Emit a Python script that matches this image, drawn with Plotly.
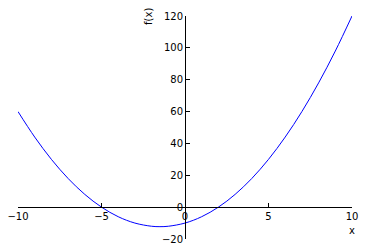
import plotly.graph_objects as go

# Values
x_vals = [-10, -9, -8, -7, -6, -5, -4, -3, -2, -1.5, -1, 0, 1, 2, 3, 4, 5, 6, 7, 8, 9, 10]
y_vals = [60, 44, 30, 18, 8, 0, -6, -10, -12, -12.25, -12, -10, -6, 0, 8, 18, 30, 44, 60, 78, 98, 120]

x_ticks = [-10, -5, 0, 5, 10]
y_ticks = [-20, 0, 20, 40, 60, 80, 100, 120]
x_label = "x"
y_label = "f(x)"

x_range = [-10, 10]
y_range = [-20, 120]

fig = go.Figure()
fig.add_trace(go.Scatter(x=x_vals, y=y_vals, mode="lines",
                         line=dict(color="#0000ff", width=1, shape="spline", smoothing=1.0),
                         hoverinfo="skip", showlegend=False))

font = dict(family="DejaVu Sans", size=10, color="#000000")

fig.update_layout(
    width=366, height=251,
    margin=dict(l=18, r=14, t=16, b=12),
    paper_bgcolor="white", plot_bgcolor="white",
    font=font,
    showlegend=False,
    xaxis=dict(range=x_range, tickvals=x_ticks, ticks="inside", ticklen=4, tickwidth=1,
               tickcolor="black", showline=True, linecolor="black", linewidth=1,
               showgrid=False, zeroline=False, anchor="free", automargin=False,
               position=(0 - y_range[0]) / (y_range[1] - y_range[0]),
               tickfont=font),
    yaxis=dict(range=y_range, tickvals=y_ticks, ticks="inside", ticklen=4, tickwidth=1,
               tickcolor="black", showline=True, linecolor="black", linewidth=1,
               showgrid=False, zeroline=False, anchor="free", automargin=False,
               position=(0 - x_range[0]) / (x_range[1] - x_range[0]),
               tickfont=font),
    annotations=[
        dict(text=x_label, xref="paper", yref="paper", x=1.0, y=0.036,
             xanchor="center", yanchor="middle", showarrow=False, font=font),
        dict(text=y_label, xref="paper", yref="paper", x=0.389, y=1.0,
             xanchor="center", yanchor="middle", showarrow=False, textangle=-90, font=font),
    ],
)

fig.write_html("out.html")
